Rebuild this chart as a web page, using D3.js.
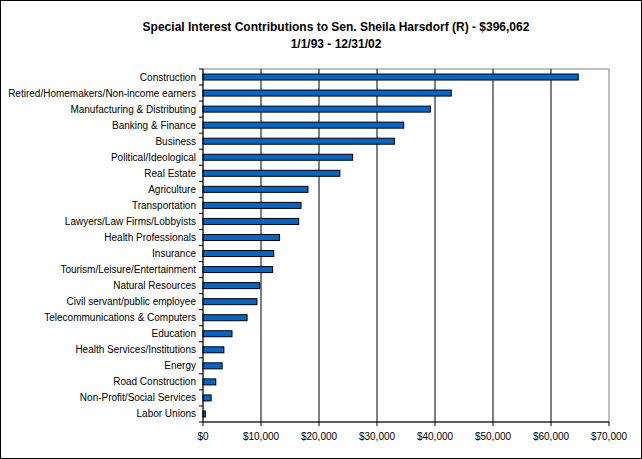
<!DOCTYPE html>
<html><head><meta charset="utf-8">
<script src="https://cdn.jsdelivr.net/npm/d3@7"></script>
<style>body{margin:0;background:#fff}svg{display:block}</style>
</head><body>
<div id="chart"></div>
<script>
var categories = ["Construction","Retired/Homemakers/Non-income earners","Manufacturing & Distributing","Banking & Finance","Business","Political/Ideological","Real Estate","Agriculture","Transportation","Lawyers/Law Firms/Lobbyists","Health Professionals","Insurance","Tourism/Leisure/Entertainment","Natural Resources","Civil servant/public employee","Telecommunications & Computers","Education","Health Services/Institutions","Energy","Road Construction","Non-Profit/Social Services","Labor Unions"];
var values = [64700,42800,39200,34600,33000,25800,23600,18100,16900,16500,13200,12200,12000,9800,9300,7600,5000,3600,3300,2200,1400,400];
var ticks = [0,10000,20000,30000,40000,50000,60000,70000];

var W = 642, H = 459;
var margin = {top: 69, right: 33, bottom: 37, left: 203},
    width = W - margin.left - margin.right,
    height = H - margin.top - margin.bottom;

var svg = d3.select("#chart").append("svg").attr("width", W).attr("height", H)
    .style("font-family", "Arial, 'Liberation Sans', sans-serif");
svg.append("rect").attr("x",0.5).attr("y",0.5).attr("width",W-1).attr("height",H-1)
    .attr("fill","#fff").attr("stroke","#000");

svg.append("text").attr("x", W/2+15).attr("y", 31).attr("text-anchor","middle")
    .attr("font-size","12px").attr("font-weight","bold")
    .text("Special Interest Contributions to Sen. Sheila Harsdorf (R) - $396,062");
svg.append("text").attr("x", W/2+15).attr("y", 48).attr("text-anchor","middle")
    .attr("font-size","12px").attr("font-weight","bold").text("1/1/93 - 12/31/02");

var x = d3.scaleLinear().domain([0,70000]).range([0,width]);
var y = d3.scaleBand().domain(categories).range([0,height]);

var g = svg.append("g").attr("transform","translate("+margin.left+","+margin.top+")");

g.append("rect").attr("width",width).attr("height",height)
    .attr("fill","none").attr("stroke","#808080");

g.selectAll(".grid").data(ticks.slice(1,-1)).enter().append("line")
    .attr("x1",function(d){return x(d);}).attr("x2",function(d){return x(d);})
    .attr("y1",0).attr("y2",height).attr("stroke","#000");

g.selectAll(".bar").data(values).enter().append("rect")
    .attr("x",0)
    .attr("y",function(d,i){return y(categories[i]) + y.bandwidth()/2 - 3;})
    .attr("height",6)
    .attr("width",function(d){return x(d);})
    .attr("fill","#0066cc").attr("stroke","#000");

// y axis
g.append("line").attr("x1",0).attr("x2",0).attr("y1",0).attr("y2",height).attr("stroke","#000");
var bounds = categories.map(function(c){return y(c);}).concat([height]);
g.selectAll(".yt").data(bounds).enter().append("line")
    .attr("x1",-4).attr("x2",0).attr("y1",function(d){return d;}).attr("y2",function(d){return d;})
    .attr("stroke","#000");
g.selectAll(".yl").data(categories).enter().append("text")
    .attr("x",-7).attr("y",function(d){return y(d)+y.bandwidth()/2;})
    .attr("dy","0.35em").attr("text-anchor","end").attr("font-size","10px")
    .text(function(d){return d;});

// x axis
g.append("line").attr("x1",0).attr("x2",width).attr("y1",height).attr("y2",height).attr("stroke","#000");
g.selectAll(".xt").data(ticks).enter().append("line")
    .attr("x1",function(d){return x(d);}).attr("x2",function(d){return x(d);})
    .attr("y1",height).attr("y2",height+4).attr("stroke","#000");
g.selectAll(".xl").data(ticks).enter().append("text")
    .attr("x",function(d){return x(d);}).attr("y",height+18)
    .attr("text-anchor","middle").attr("font-size","10px")
    .text(function(d){return d3.format("$,")(d);});
</script>
</body></html>
